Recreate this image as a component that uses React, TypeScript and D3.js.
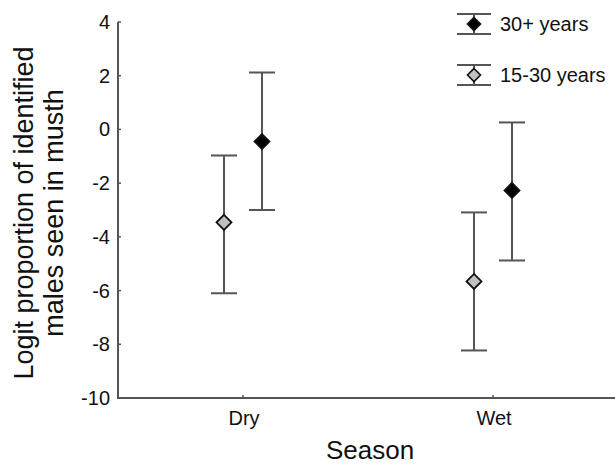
import React from 'react'
import * as d3 from 'd3'

const seasons = ['Dry', 'Wet']
const groups = ['30+ years', '15-30 years']
// mean, lower, upper per season
const old_mean = [-0.45, -2.27]
const old_low = [-3.0, -4.88]
const old_high = [2.12, 0.26]
const young_mean = [-3.46, -5.66]
const young_low = [-6.1, -8.23]
const young_high = [-0.97, -3.09]
const yTicks = [4, 2, 0, -2, -4, -6, -8, -10]

const fills = ['#000000', '#c0c0c0']
const offsets = [19, -19]
const lineCol = '#555'

export default function App() {
  const width = 615
  const height = 466
  const x = d3.scaleBand().domain(seasons).range([118, 618])
  const y = d3.scaleLinear().domain([-10, 4]).range([398, 22])
  const font = 'Arial, "Liberation Sans", sans-serif'

  const series = [
    { mean: old_mean, low: old_low, high: old_high },
    { mean: young_mean, low: young_low, high: young_high }
  ]

  const diamond = (cx: number, cy: number, r: number) =>
    `M${cx},${cy - r}L${cx + r},${cy}L${cx},${cy + r}L${cx - r},${cy}Z`

  return (
    <svg width={width} height={height} style={{ position: 'absolute', left: 0, top: 0 }} fontFamily={font}>
      <rect width={width} height={height} fill="#fff" />
      {/* axes */}
      <line x1={118} x2={118} y1={y(4)} y2={y(-10)} stroke={lineCol} strokeWidth={2} />
      <line x1={117} x2={618} y1={y(-10)} y2={y(-10)} stroke={lineCol} strokeWidth={2} />
      {yTicks.map(t => (
        <g key={t}>
          <line x1={118} x2={121} y1={y(t)} y2={y(t)} stroke={lineCol} strokeWidth={1.5} />
          <text x={110} y={y(t)} dy="0.35em" textAnchor="end" fontSize={20} fill="#111">{t}</text>
        </g>
      ))}
      {seasons.map(s => {
        const cx = (x(s) || 0) + x.bandwidth() / 2
        return (
          <g key={s}>
            <line x1={cx} x2={cx} y1={y(-10)} y2={y(-10) - 3} stroke={lineCol} strokeWidth={1.5} />
            <text x={cx + 1} y={425} textAnchor="middle" fontSize={20} fill="#111">{s}</text>
          </g>
        )
      })}
      {/* error bars */}
      {series.map((sr, gi) =>
        seasons.map((s, i) => {
          const cx = (x(s) || 0) + x.bandwidth() / 2 + offsets[gi]
          return (
            <g key={gi + s}>
              <line x1={cx} x2={cx} y1={y(sr.low[i])} y2={y(sr.high[i])} stroke={lineCol} strokeWidth={2} />
              <line x1={cx - 13} x2={cx + 13} y1={y(sr.low[i])} y2={y(sr.low[i])} stroke={lineCol} strokeWidth={2} />
              <line x1={cx - 13} x2={cx + 13} y1={y(sr.high[i])} y2={y(sr.high[i])} stroke={lineCol} strokeWidth={2} />
              <path d={diamond(cx, y(sr.mean[i]), 7.5)} fill={fills[gi]} stroke="#111" strokeWidth={1.8} />
            </g>
          )
        })
      )}
      {/* legend */}
      {groups.map((g, gi) => {
        const cy = 24 + gi * 51
        return (
          <g key={g}>
            <line x1={457} x2={491} y1={cy - 10} y2={cy - 10} stroke={lineCol} strokeWidth={2} />
            <line x1={457} x2={491} y1={cy + 10} y2={cy + 10} stroke={lineCol} strokeWidth={2} />
            <line x1={474} x2={474} y1={cy - 10} y2={cy + 10} stroke={lineCol} strokeWidth={2} />
            <path d={diamond(474, cy, 6.5)} fill={fills[gi]} stroke="#111" strokeWidth={1.6} />
            <text x={500} y={cy} dy="0.35em" fontSize={20} fill="#111">{g}</text>
          </g>
        )
      })}
      {/* axis titles */}
      <text x={370} y={459} textAnchor="middle" fontSize={26} fill="#111">Season</text>
      <text transform="translate(33,213) rotate(-90)" textAnchor="middle" fontSize={27} fill="#111">Logit proportion of identified</text>
      <text transform="translate(63,213) rotate(-90)" textAnchor="middle" fontSize={27} fill="#111">males seen in musth</text>
    </svg>
  )
}
